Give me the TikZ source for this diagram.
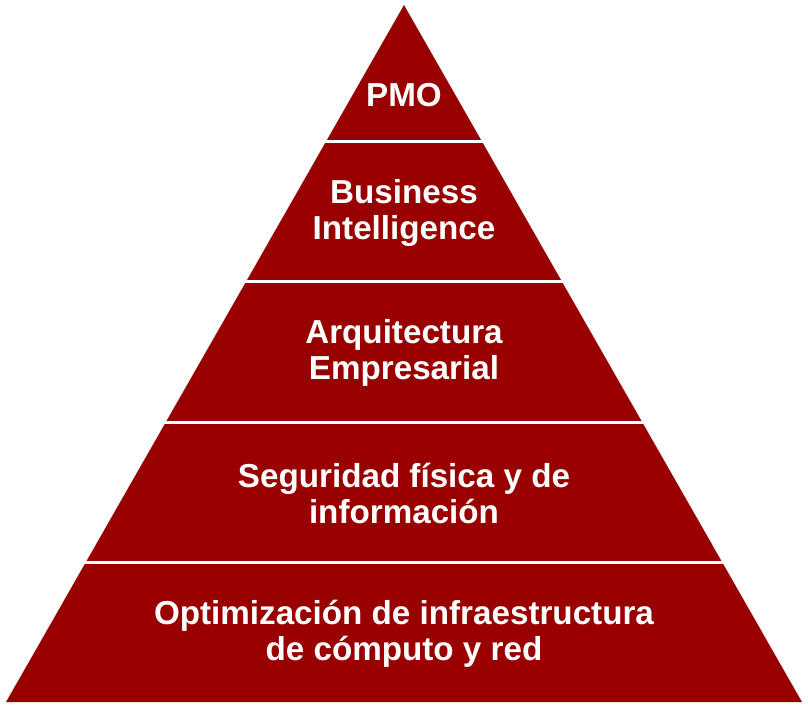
\documentclass[tikz,border=0pt]{standalone}
\usepackage{fontspec}
\setmainfont{Liberation Sans}
\usepackage{xcolor}
\usetikzlibrary{positioning}
\definecolor{pyrRed}{RGB}{153,0,0}

\begin{document}
\begin{tikzpicture}[
  x=1pt,y=-1pt,
  lvl/.style={text=white,font=\bfseries\fontsize{33.2}{36}\selectfont,align=center,inner sep=0pt},
  sep/.style={white,line width=3pt}
]
\useasboundingbox (0,0) rectangle (808,706);
\coordinate (apex) at (404,5);
\coordinate (bl) at (6,702);
\coordinate (br) at (802,702);
\fill[pyrRed] (apex)--(br)--(bl)--cycle;
\foreach \y in {141.5,281.5,422.5,562.5}
  \draw[sep] (0,\y)--(808,\y);

\node[lvl] (pmo) at (404,95.5) {PMO};
\node[lvl] (bi) at (404,213) {Business\\Intelligence};
\node[lvl] (arq) at (404,353) {Arquitectura\\Empresarial};
\node[lvl] (seg) at (404,493) {Seguridad física y de\\información};
\node[lvl] (opt) at (404,634) {Optimización de infraestructura\\de cómputo y red};
\end{tikzpicture}
\end{document}
